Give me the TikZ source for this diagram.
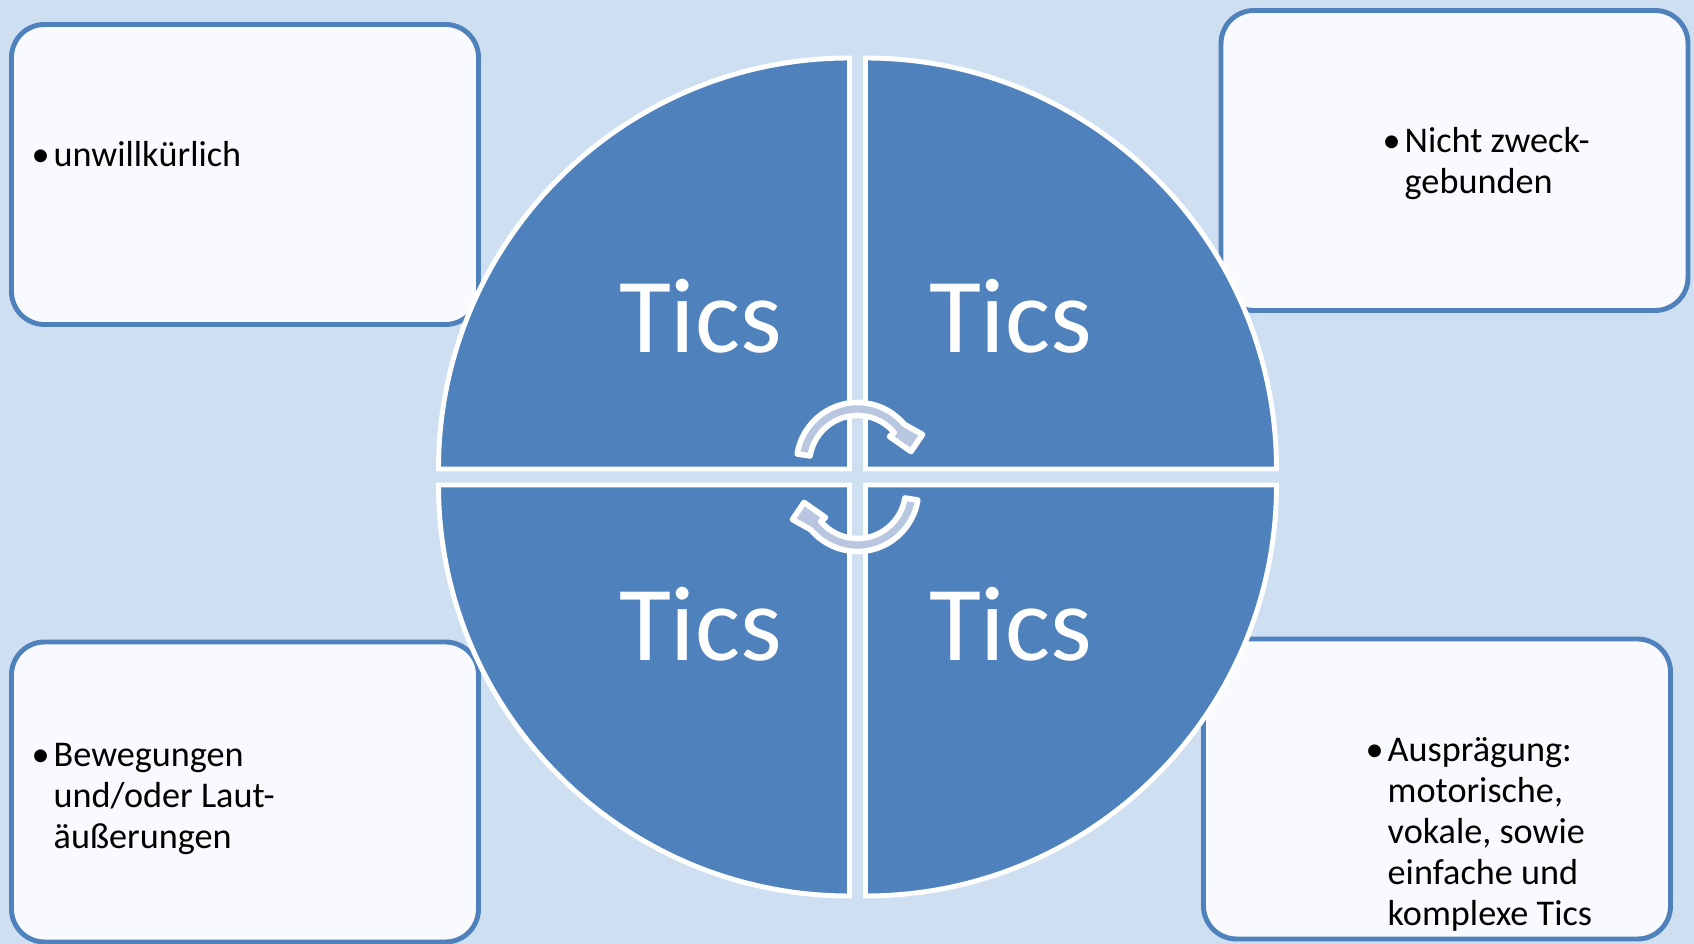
\documentclass[tikz,border=0pt]{standalone}
\usepackage{fontspec}
\setmainfont{Carlito}
\usepackage{tikz}
\usetikzlibrary{calc}
\definecolor{ticblue}{RGB}{79,129,189}
\definecolor{ticback}{RGB}{206,223,241}
\definecolor{ticpaper}{RGB}{248,250,253}
\definecolor{ticarrow}{RGB}{184,198,224}
\newcommand{\ticitem}[1]{\makebox[0.22cm][l]{\textbullet}\parbox[t]{4cm}{\raggedright #1}}

\begin{document}
\begin{tikzpicture}[
infobox/.style={draw=ticblue, line width=1.4pt, fill=ticpaper, rounded corners=0.33cm,
minimum width=4.67cm, minimum height=3cm},
itemtext/.style={anchor=base west, inner sep=0pt, font=\fontsize{10.3}{11.65}\selectfont},
quad/.style={fill=ticblue, draw=white, line width=1.4pt},
ticlabel/.style={anchor=base, inner sep=0pt, text=white, font=\fontsize{30.3}{36}\selectfont},
cyclearrow/.style={fill=ticarrow, draw=white, line width=1.6pt, line join=round}
]

\useasboundingbox (0,0) rectangle (16.94,9.44);
\fill[ticback] (0,0) rectangle (16.94,9.44);

\node[infobox] (boxTL) at (2.45,7.695) {};
\node[infobox] (boxTR) at (14.545,7.835) {};
\node[infobox] (boxBR) at (14.37,1.55) {};
\node[infobox] (boxBL) at (2.45,1.52) {};

\node[itemtext] (itemTL) at (0.31,7.77)  {\ticitem{unwillkürlich}};
\node[itemtext] (itemTR) at (13.82,7.91) {\ticitem{Nicht zweck-\\gebunden}};
\node[itemtext] (itemBR) at (13.65,1.82) {\ticitem{Ausprägung:\\motorische,\\vokale, sowie\\einfache und\\komplexe Tics}};
\node[itemtext] (itemBL) at (0.31,1.77)  {\ticitem{Bewegungen\\und/oder Laut-\\äußerungen}};

% circle in four parts
\coordinate (hub) at (8.575,4.67);
\foreach \s in {0,90,180,270} {
\draw[quad] ($(hub)+(\s+45:0.113)$) -- ++(\s:4.11)
  arc[start angle=\s, end angle=\s+90, radius=4.11] -- cycle;
}

\node[ticlabel] (ticsTL) at (7.005,5.91)  {Tics};
\node[ticlabel] (ticsTR) at (10.105,5.91) {Tics};
\node[ticlabel] (ticsBL) at (7.005,2.83)  {Tics};
\node[ticlabel] (ticsBR) at (10.105,2.83) {Tics};

\foreach \r in {0,180} {
\draw[cyclearrow, shift={(hub)}, rotate=\r, yshift=1.35mm]
  (171:0.61) arc[start angle=171, end angle=40, radius=0.61]
  -- (0.65,0.29) -- (0.535,0.12) -- (0.32,0.27)
  -- (40:0.48) arc[start angle=40, end angle=171, radius=0.48] -- cycle;
}

\end{tikzpicture}
\end{document}
